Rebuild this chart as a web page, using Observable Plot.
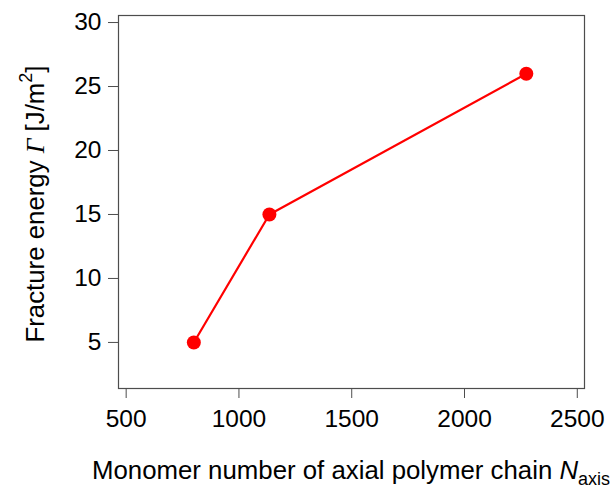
<!DOCTYPE html>
<html>
<head>
<meta charset="utf-8">
<script src="https://cdn.jsdelivr.net/npm/d3@7"></script>
<script src="https://cdn.jsdelivr.net/npm/@observablehq/plot@0.6"></script>
<style>
  body { margin: 0; background: #fff; }
  #chart svg { display: block; }
</style>
</head>
<body>
<div id="chart"></div>
<script>
// Fracture energy vs. monomer number of the axial polymer chain
const monomerNumber = [800, 1135, 2274];
const fractureEnergy = [5, 15, 26];
const xTicks = [500, 1000, 1500, 2000, 2500];
const yTicks = [5, 10, 15, 20, 25, 30];

const points = monomerNumber.map((n, i) => ({n, gamma: fractureEnergy[i]}));

const font = "'Liberation Sans', Arial, Helvetica, sans-serif";
const axisGray = "#4d4d4d";

const plot = Plot.plot({
  width: 615,
  height: 488,
  marginLeft: 118,
  marginRight: 31,
  marginTop: 15,
  marginBottom: 100,
  style: {fontFamily: font, fontSize: "24px", color: "#000", background: "#fff"},
  x: {domain: [466, 2532]},
  y: {domain: [1.4, 30.55]},
  marks: [
    Plot.frame({stroke: axisGray, strokeWidth: 1.2}),
    Plot.axisX({ticks: xTicks, tickSize: 10, tickPadding: 11, label: null,
      tickFormat: d => String(d), stroke: axisGray, fill: "#000", fontSize: 24.5}),
    Plot.axisY({ticks: yTicks, tickSize: 10, tickPadding: 7, label: null,
      tickFormat: d => String(d), stroke: axisGray, fill: "#000", fontSize: 24.5}),
    Plot.line(points, {x: "n", y: "gamma", stroke: "#ff0000", strokeWidth: 2.2}),
    Plot.dot(points, {x: "n", y: "gamma", r: 7, fill: "#ff0000", stroke: "none"})
  ]
});

document.getElementById("chart").append(plot);

// Axis titles with italic symbols, subscript and superscript
const svg = d3.select(plot);

const xTitle = svg.append("text")
  .attr("x", 92).attr("y", 479)
  .attr("font-family", font).attr("font-size", 25.8).attr("fill", "#000")
  .attr("text-anchor", "start");
xTitle.append("tspan").text("Monomer number of axial polymer chain ");
xTitle.append("tspan").attr("font-style", "italic").text("N");
xTitle.append("tspan").attr("font-size", 18).attr("dy", 6).text("axis");

const yTitle = svg.append("text")
  .attr("transform", "translate(44,204) rotate(-90)")
  .attr("font-family", font).attr("font-size", 25.8).attr("fill", "#000")
  .attr("text-anchor", "middle");
yTitle.append("tspan").text("Fracture energy ");
yTitle.append("tspan").attr("font-style", "italic")
  .attr("font-family", "'Liberation Serif', 'Times New Roman', serif").text("Γ");
yTitle.append("tspan").text(" [J/m");
yTitle.append("tspan").attr("font-size", 18).attr("dy", -12).text("2");
yTitle.append("tspan").attr("dy", 12).text("]");
</script>
</body>
</html>
